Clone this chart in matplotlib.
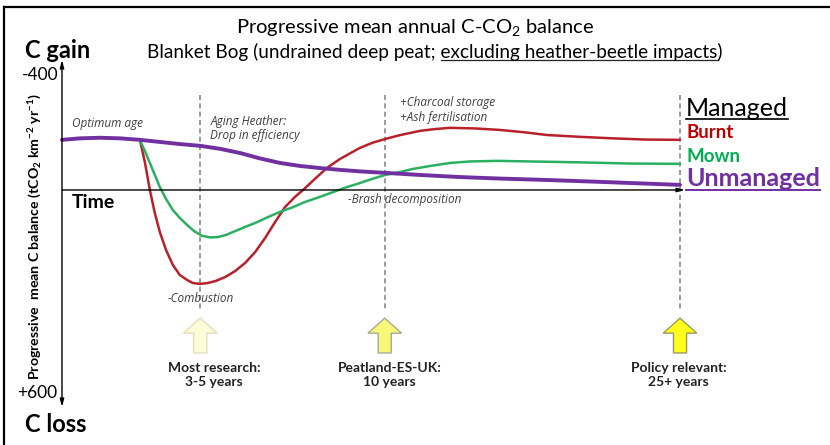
import matplotlib
matplotlib.use("Agg")
import matplotlib.pyplot as plt
from matplotlib.lines import Line2D
from matplotlib.patches import FancyArrow

plt.rcParams['font.family'] = ['Lato', 'DejaVu Sans']
plt.rcParams['mathtext.default'] = 'regular'

# ---------------- data (conceptual values) ----------------
# time in arbitrary units (0 = start, 100 = end of time axis)
# C balance in tCO2 km-2 yr-1 (negative = gain, drawn upwards)
unmanaged_t = [0, 2.9, 6.1, 9.3, 12.5, 15.7, 18.9, 22.2, 25.4, 28.6, 31.8, 35.0,
               38.2, 41.4, 44.6, 47.8, 51.9, 57.5, 63.9, 70.3, 78.3, 86.4, 92.8, 99.2]
unmanaged_v = [-167, -172, -174, -172, -167, -160, -153, -147, -137, -123, -105, -90,
               -80, -73, -67, -62, -57, -50, -43, -38, -33, -27, -22, -17]

burnt_t = [12.5, 13.3, 14.1, 14.9, 15.7, 16.7, 17.8, 18.9, 20.1, 21.0, 22.2, 23.4,
           24.7, 26.2, 27.8, 29.4, 31.0, 32.6, 34.2, 35.8, 37.4, 38.7, 40.6, 42.5,
           44.6, 47.8, 49.8, 51.9, 54.3, 57.5, 59.9, 62.3, 66.3, 70.3, 74.3, 77.9,
           83.2, 88.4, 93.6, 99.2]
burnt_v = [-167, -93, 0, 77, 140, 200, 250, 283, 300, 310, 313, 310,
           303, 290, 270, 243, 207, 160, 107, 57, 23, 0, -37, -73,
           -103, -140, -157, -170, -183, -197, -203, -207, -205, -200, -192, -183,
           -177, -172, -168, -167]

mown_t = [12.5, 13.3, 14.1, 14.9, 15.7, 16.7, 17.8, 18.9, 20.1, 21.2, 22.5, 23.8,
          25.0, 26.3, 27.8, 29.4, 31.0, 33.1, 35.0, 37.1, 39.0, 41.4, 43.5, 45.8,
          47.8, 49.8, 51.9, 54.3, 56.3, 59.1, 62.3, 65.5, 69.8, 75.1, 83.2, 91.2, 99.2]
mown_v = [-167, -130, -90, -50, -10, 30, 67, 93, 117, 137, 153, 158,
          157, 150, 137, 123, 110, 90, 73, 57, 40, 23, 7, -10,
          -23, -37, -50, -60, -70, -80, -90, -95, -97, -95, -92, -88, -87]

milestone_t = [22.2, 51.8, 99.2]
milestone_labels = ["Most research:\n3-5 years",
                    "Peatland-ES-UK:\n10 years",
                    "Policy relevant:\n25+ years"]
axis_end_labels = ["-400", "+600"]

# ---------------- styles ----------------
RED = "#B8202B"
GREEN = "#2BB062"
PURPLE = "#7030A0"
NOTE = "#404040"
arrow_faces = ["#FFFDD8", "#F8F878", "#FFFF1A"]
arrow_edges = ["#E2DFC0", "#A8A898", "#9A9A60"]
label_offsets = [2.2, 0.8, -0.2]

W, H = 830, 445
fig = plt.figure(figsize=(W / 100, H / 100), dpi=100)


def fx(px):
    return px / W


def fy(py):
    return 1 - py / H


ax = fig.add_axes([fx(62), fy(407), 623 / W, 347 / H])
ax.set_xlim(0, 100)
ax.set_ylim(723, -433)
ax.axis('off')

# frame (left and top only)
fig.add_artist(Line2D([fx(4), fx(4)], [0, fy(7)], color='black', lw=1.6))
fig.add_artist(Line2D([fx(4), 1], [fy(7), fy(7)], color='black', lw=1.6))

# axes arrows
ax.annotate('', xy=(0, 1), xytext=(0, 0), xycoords='axes fraction',
            arrowprops=dict(arrowstyle='<|-|>,head_length=0.45,head_width=0.12',
                            lw=1, color='black', shrinkA=0, shrinkB=0))
ax.annotate('', xy=(100, 0), xytext=(0, 0),
            arrowprops=dict(arrowstyle='-|>,head_length=0.45,head_width=0.12',
                            lw=1, color='black', shrinkA=0, shrinkB=0))

# milestone dashed lines
ax.vlines(milestone_t, -317, 400, linestyles=(0, (3, 2)), colors='#8a8a8a',
          lw=1.2, clip_on=False)

# curves
ax.plot(burnt_t, burnt_v, color=RED, lw=1.8, clip_on=False,
        solid_capstyle='round', solid_joinstyle='round')
ax.plot(mown_t, mown_v, color=GREEN, lw=1.8, clip_on=False,
        solid_capstyle='round', solid_joinstyle='round')
ax.plot(unmanaged_t, unmanaged_v, color=PURPLE, lw=2.8, clip_on=False,
        solid_capstyle='round', solid_joinstyle='round')

# block arrows and labels
for t, lab, fc, ec, off in zip(milestone_t, milestone_labels, arrow_faces,
                               arrow_edges, label_offsets):
    ax.add_patch(FancyArrow(t, 543, 0, -116, width=2.1, head_width=5.4,
                            head_length=50, length_includes_head=True,
                            fc=fc, ec=ec, lw=1, clip_on=False))
    ax.text(t + off, 617, lab, ha='center', va='center', fontweight='bold',
            fontsize=10, linespacing=1.25, color='#222222')

# notes on the chart
note_kw = dict(fontsize=8.5, style='italic', color=NOTE, va='center', ha='left',
               family=['Open Sans', 'DejaVu Sans'])
ax.text(1.6, -223, "Optimum age", **note_kw)
ax.text(23.8, -227, "Aging Heather:", **note_kw)
ax.text(23.8, -183, "Drop in efficiency", **note_kw)
ax.text(16.9, 360, "-Combustion", **note_kw)
ax.text(45.9, 33, "-Brash decomposition", **note_kw)
ax.text(54.3, -290, "+Charcoal storage", **note_kw)
ax.text(54.3, -243, "+Ash fertilisation", **note_kw)
ax.text(1.6, 43, "Time", fontsize=14, fontweight='bold', va='center', ha='left')

# titles
fig.text(fx(415), fy(27), "Progressive mean annual C-CO$_2$ balance",
         ha='center', va='center', fontsize=14.5)
sub = fig.text(fx(435), fy(52),
               "Blanket Bog (undrained deep peat; excluding heather-beetle impacts)",
               ha='center', va='center', fontsize=13.7)

fig.text(fx(25), fy(50), "C gain", ha='left', va='center', fontsize=17,
         fontweight='bold')
fig.text(fx(25), fy(425), "C loss", ha='left', va='center', fontsize=17,
         fontweight='bold')
fig.text(fx(58), fy(75), axis_end_labels[0], ha='right', va='center', fontsize=12.5)
fig.text(fx(57), fy(393), axis_end_labels[1], ha='right', va='center', fontsize=12.5)
fig.text(fx(35), fy(237),
         "Progressive  mean C balance (tCO$_2$ km$^{-2}$ yr$^{-1}$)",
         rotation=90, ha='center', va='center', fontsize=10.2, fontweight='bold')

# legend-like labels on the right
managed = fig.text(fx(686), fy(108), "Managed", ha='left', va='center', fontsize=18)
fig.text(fx(686), fy(133), "Burnt", ha='left', va='center', fontsize=13.5,
         fontweight='bold', color="#C00000")
fig.text(fx(686), fy(157), "Mown", ha='left', va='center', fontsize=13.5,
         fontweight='bold', color="#00B050")
unman = fig.text(fx(686), fy(179), "Unmanaged", ha='left', va='center',
                 fontsize=18, fontweight='bold', color=PURPLE)

# underlines
fig.canvas.draw()
renderer = fig.canvas.get_renderer()
inv = fig.transFigure.inverted()


def add_underline(x0, x1, y, color, lw=1.0):
    (a, b) = inv.transform((x0, y))
    (c, d) = inv.transform((x1, y))
    fig.add_artist(Line2D([a, c], [b, d], color=color, lw=lw))


bb = managed.get_window_extent(renderer)
add_underline(bb.x0, bb.x1, bb.y0 + 1, 'black', 1.2)
bb = unman.get_window_extent(renderer)
add_underline(bb.x0, bb.x1, bb.y0 + 1, PURPLE, 1.4)


def text_width(s, **kw):
    t = fig.text(0, 0, s, **kw)
    w = t.get_window_extent(renderer).width
    t.remove()
    return w


bb = sub.get_window_extent(renderer)
w_tail = text_width("excluding heather-beetle impacts)", fontsize=13.7)
w_par = text_width(")", fontsize=13.7)
add_underline(bb.x1 - w_tail, bb.x1 - w_par, bb.y0 + 1, '#222222', 0.9)

fig.savefig("out.png", dpi=100)
